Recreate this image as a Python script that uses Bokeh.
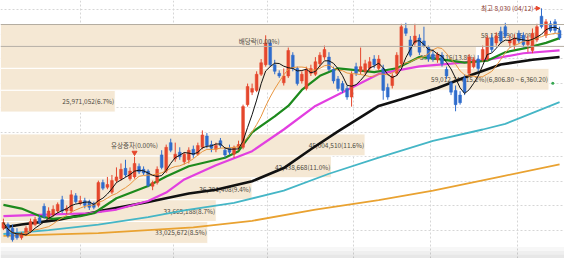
import pandas as pd
from bokeh.plotting import figure
from bokeh.models import Range1d, FixedTicker, ColumnDataSource, Span, BoxAnnotation, Arrow, NormalHead
from bokeh.core.properties import value
from bokeh.embed import file_html
from bokeh.resources import INLINE

# ---- daily candles (price) ----
opens = [3545,3620,3545,3445,3350,3430,3485,3620,3755,3990,
         3775,3815,3895,4125,3895,3895,4205,4050,4105,4085,
         4050,4010,4475,4380,4280,4515,4555,4765,4555,4590,
         4805,4745,4710,4400,4475,5040,4710,5290,4960,5095,
         4900,4940,5155,5055,5195,5425,5250,5155,5330,5135,
         5175,5055,5195,5195,6065,6320,6355,6685,6880,7325,
         6880,6705,6510,6650,7075,6805,6550,6395,6705,6685,
         6900,7035,7035,6785,6590,6495,6395,6220,6840,6745,
         6745,6805,6995,6805,6805,6415,6455,6705,6900,7620,
         7385,7325,7425,7365,7230,7095,6980,7075,6785,6510,
         6355,6260,6610,6705,6840,6995,6980,6995,7425,7325,
         7560,7655,7325,7290,7520,7480,7290,7170,7385,7870,
         7480,7715,7755,7580]
highs = [3740,3660,3620,3545,3465,3585,3740,3775,3815,4050,
         3970,4010,4070,4205,4010,4320,4260,4205,4165,4125,
         4085,4515,4535,4590,4630,4785,4865,4940,4785,5000,
         4865,4805,4745,4515,4805,5135,5250,5370,5290,5195,
         5095,5195,5230,5290,5540,5485,5330,5290,5385,5195,
         5250,5230,5330,6065,6495,6495,6745,6995,7480,7385,
         6980,6765,6805,7230,7135,6840,6745,6840,6880,7035,
         7135,7270,7135,6840,6650,6550,6455,6745,6920,7230,
         6980,7035,7075,7075,6880,6495,6705,7135,7715,7735,
         7465,7715,7500,7655,7270,7190,7135,7135,6840,6550,
         6455,6340,6685,7095,7035,7075,7270,7480,7500,7540,
         7655,7735,7465,7500,7580,7540,7465,7620,7715,8030,
         7810,7775,7810,7655]
lows = [3505,3350,3270,3310,3310,3390,3445,3585,3620,3740,
        3720,3775,3855,3855,3835,3855,4050,4010,3950,3915,
        3930,3970,4320,4340,4240,4475,4515,4590,4515,4555,
        4650,4630,4380,4320,4435,4745,4670,5095,4900,4940,
        4845,4865,4980,5020,5155,5175,5095,5095,5175,4980,
        5040,4980,5135,5155,6025,6260,6320,6650,6840,6840,
        6685,6610,6455,6610,6745,6455,6495,6355,6650,6650,
        6840,6980,6745,6495,6340,6300,6165,6025,6650,6685,
        6685,6745,6805,6765,6165,6165,6395,6650,6840,7465,
        7035,7270,7075,7230,6940,6940,6920,6840,6590,6260,
        5930,6065,6260,6650,6805,6745,6940,6960,7135,7270,
        7310,7425,7230,7190,7310,7230,7135,7115,7345,7620,
        7425,7540,7520,7385]
closes = [3660,3390,3310,3350,3430,3545,3680,3720,3660,3775,
          3895,3930,4030,3895,3950,4225,4085,4105,4010,3970,
          3970,4475,4360,4435,4515,4590,4745,4630,4710,4865,
          4690,4670,4415,4475,4745,4785,5195,5135,5055,5000,
          5055,5135,5040,5230,5445,5230,5175,5230,5230,5040,
          5095,5195,5250,6025,6435,6395,6685,6920,7325,6880,
          6745,6650,6650,7170,6805,6495,6685,6785,6805,6940,
          7075,7190,6785,6550,6395,6355,6220,6685,6705,6840,
          6900,6940,6880,6995,6355,6220,6650,7075,7655,7520,
          7075,7465,7135,7270,6995,6995,7095,6900,6650,6320,
          6065,6105,6320,7035,6980,6805,7190,7425,7190,7465,
          7365,7465,7385,7425,7365,7290,7385,7520,7655,7655,
          7755,7580,7580,7425]

# ---- long moving averages (candle index, price) ----
ma20_idx = [0,4,8,11,17,20,25,32,36,41,49,52,55,60,63,66,70,74,78,82,87,92,96,102,107,111,116,120,123]
ma20_val = [4021,3945,3791,3733,3791,3849,4156,4406,4598,4809,4982,5116,5501,5827,6039,6365,6653,6807,6768,6730,6807,7037,6999,6922,6961,7133,7230,7326,7422]
ma60_idx = [0,6,19,25,32,36,40,47,55,62,69,76,83,92,99,107,115,123]
ma60_val = [3791,3810,3849,3925,4098,4271,4540,4828,5116,5558,6039,6365,6692,6845,6903,6980,7114,7172]
ma120_idx = [0,4,12,21,32,41,47,55,62,68,74,83,88,96,103,110,117,123]
ma120_val = [3560,3618,3714,3887,4079,4252,4329,4502,4771,5155,5520,6039,6173,6403,6653,6884,6980,7037]
ma240_idx = [0,10,21,32,40,51,62,72,83,95,106,111,123]
ma240_val = [3426,3503,3618,3772,3906,4060,4310,4655,4982,5328,5558,5674,6115]
ma480_idx = [0,21,42,55,69,83,95,110,123]
ma480_val = [3388,3445,3560,3695,3925,4117,4310,4598,4847]

# ---- volume profile ----
bin_low_start = 3234.0
bin_width = 446.6
vp_vol = [33025672, 33665188, 36391408, 42438668, 45004510, 412300,
          25971052, 59012744, 53482116, 58135290]
vp_pct = [8.5, 8.7, 9.4, 11.0, 11.6, 0.1, 6.7, 15.2, 13.8, 15.0]
poc_range = "(6,806.80 ~ 6,360.20)"
vp_floor = 17230000

# ---- events ----
event_idx = [29, 57]
event_text = ["유상증자(0.00%)", "배당락(0.00%)"]
high_text = "최고 8,030 (04/12)"
dot_idx = [121.5]
dot_val = [6500]

grid_x = [17, 37.6, 58.5, 77.4, 94.4, 113.8]
grid_y = [3500, 4000, 4500, 5000, 5500, 6000, 6500, 7000, 7500, 8000]

RED = "#e5472d"
BLUE = "#2f6ccc"
FONT = value("Noto Sans CJK KR")

n = len(closes)
idx = list(range(n))
df = pd.DataFrame(dict(i=idx, o=opens, h=highs, l=lows, c=closes))
df["top"] = df[["o", "c"]].max(axis=1)
df["bot"] = df[["o", "c"]].min(axis=1)
df["col"] = [RED if c >= o else BLUE for o, c in zip(opens, closes)]
df["ma5"] = df["c"].rolling(5, min_periods=1).mean()
df["ma10"] = df["c"].rolling(10, min_periods=1).mean()
src = ColumnDataSource(df)

p = figure(width=564, height=258, x_range=Range1d(-0.645, 124.09),
           y_range=Range1d(2926, 8190), output_backend="svg",
           toolbar_location=None, min_border=0)
p.extra_x_ranges = {"vp": Range1d(vp_floor, vp_floor + 580 / 13.5 * 1e6)}
p.xaxis.visible = False
p.yaxis.visible = False
p.outline_line_color = None
p.background_fill_color = "white"
p.xgrid.ticker = FixedTicker(ticks=grid_x)
p.ygrid.ticker = FixedTicker(ticks=grid_y)
p.grid.grid_line_color = "#d6d6d6"
p.grid.grid_line_dash = "2 2"
p.grid.grid_line_width = 1

# volume profile bars
lo = [bin_low_start + k * bin_width for k in range(len(vp_vol))]
hi = [v + bin_width for v in lo]
mid = [(a + b) / 2 for a, b in zip(lo, hi)]
vis = [k for k in range(len(vp_vol)) if vp_vol[k] > vp_floor]
poc = max(range(len(vp_vol)), key=lambda k: vp_vol[k])
labels = []
for k in vis:
    t = f"{vp_vol[k]:,}({vp_pct[k]:.1f}%)"
    if k == poc:
        t += poc_range
    labels.append(t)
vsrc = ColumnDataSource(dict(left=[vp_floor] * len(vis), right=[vp_vol[k] for k in vis],
                             top=[hi[k] for k in vis], bottom=[lo[k] for k in vis],
                             mid=[mid[k] for k in vis], label=labels))
p.quad(left="left", right="right", top="top", bottom="bottom", source=vsrc,
       x_range_name="vp", fill_color="#f5e8d4", line_color="white", line_width=1)
p.text(x="right", y="mid", text="label", source=vsrc, x_range_name="vp",
       text_align="right", text_baseline="middle", x_offset=-1,
       text_font=FONT, text_font_size="6.5px", text_color="#4e4a3e")

p.add_layout(Span(location=hi[-1], dimension="width", line_color="#b3aca0", line_width=1))
p.add_layout(Span(location=lo[-1], dimension="width", line_color="#b3aca0", line_width=1))

# bottom shading
for t in [3160, 3080, 3000]:
    p.add_layout(BoxAnnotation(top=t, fill_color="#000000", fill_alpha=0.03, line_color=None))

# long MAs
p.line(ma480_idx, ma480_val, line_color="#e9a231", line_width=1.8)
p.line(ma240_idx, ma240_val, line_color="#45b6c6", line_width=1.8)
p.line(ma120_idx, ma120_val, line_color="#111111", line_width=2.6)
p.line(ma60_idx, ma60_val, line_color="#e23fe0", line_width=2.2)
p.line(ma20_idx, ma20_val, line_color="#1d8a1d", line_width=2.2)

# candles
p.segment(x0="i", y0="h", x1="i", y1="l", source=src, line_color="col", line_width=1)
p.vbar(x="i", top="top", bottom="bot", width=0.62, source=src, fill_color="col", line_color="col", line_width=0.5)

# short MAs
p.line("i", "ma10", source=src, line_color="#e8953f", line_width=1)
p.line("i", "ma5", source=src, line_color="#111111", line_width=1)

# events
p.text(x=[event_idx[0]], y=[highs[event_idx[0]]], text=[event_text[0]], text_align="center",
       text_baseline="middle", y_offset=-12, text_font=FONT, text_font_size="6.5px", text_color="#4e4a3e")
p.scatter(x=[event_idx[0]], y=[highs[event_idx[0]] + 85], marker="inverted_triangle", size=5,
          fill_color=RED, line_color=RED)
p.text(x=[event_idx[1]], y=[highs[event_idx[1]]], text=[event_text[1]], text_align="center",
       text_baseline="middle", y_offset=-18, x_offset=-2, text_font=FONT, text_font_size="6.5px",
       text_color="#4e4a3e")

hi_i = max(range(n), key=lambda k: highs[k])
p.text(x=[hi_i], y=[highs[hi_i]], text=[high_text], text_align="right", text_baseline="middle",
       x_offset=-8, text_font=FONT, text_font_size="6.5px", text_color="#8c3a32")
p.add_layout(Arrow(x_start=hi_i - 1.6, y_start=highs[hi_i], x_end=hi_i - 0.3, y_end=highs[hi_i],
                   line_color=RED, line_width=1, line_dash="2 1",
                   end=NormalHead(size=4, fill_color=RED, line_color=RED)))

p.scatter(x=dot_idx, y=dot_val, size=3, fill_color="#36a852", line_color=None)

open("out.html", "w").write(file_html(p, INLINE))
